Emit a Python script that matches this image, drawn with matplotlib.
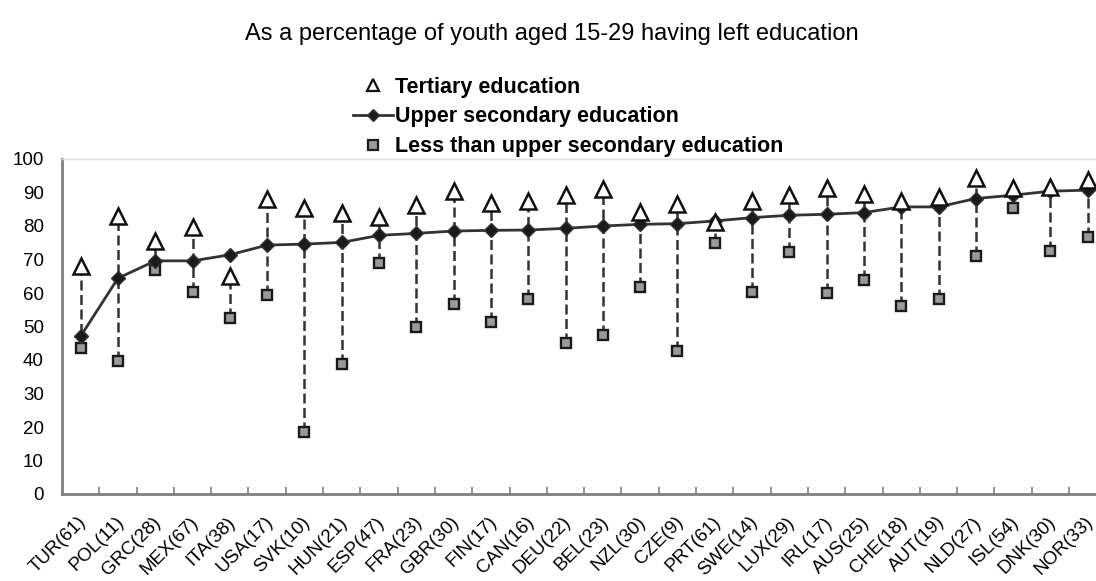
import matplotlib
matplotlib.use("Agg")
import matplotlib.pyplot as plt
from matplotlib.lines import Line2D
from matplotlib.transforms import ScaledTranslation

plt.rcParams['font.family'] = ['Liberation Sans', 'DejaVu Sans']

countries = ["TUR(61)", "POL(11)", "GRC(28)", "MEX(67)", "ITA(38)", "USA(17)", "SVK(10)",
             "HUN(21)", "ESP(47)", "FRA(23)", "GBR(30)", "FIN(17)", "CAN(16)", "DEU(22)",
             "BEL(23)", "NZL(30)", "CZE(9)", "PRT(61)", "SWE(14)", "LUX(29)", "IRL(17)",
             "AUS(25)", "CHE(18)", "AUT(19)", "NLD(27)", "ISL(54)", "DNK(30)", "NOR(33)"]
tertiary = [68, 83, 75.6, 79.7, 65, 88.1, 85.3, 83.8, 82.7, 86.3, 90.4, 86.9, 87.6, 89.4,
            90.9, 84.3, 86.6, 81.2, 87.6, 89.4, 91.4, 89.7, 87.4, 88.7, 94.4, 91.4, 91.7, 93.7]
upper_secondary = [47.1, 64.4, 69.6, 69.6, 71.4, 74.3, 74.6, 75.1, 77.2, 77.8, 78.5, 78.7,
                   78.8, 79.3, 80.0, 80.5, 80.7, 81.5, 82.5, 83.2, 83.5, 84.0, 85.7, 85.7,
                   88.2, 89.2, 90.4, 90.7]
below_upper = [43.6, 39.7, 67, 60.4, 52.6, 59.3, 18.4, 38.7, 69.1, 49.9, 56.8, 51.3, 58.3,
               45.2, 47.4, 61.9, 42.7, 74.9, 60.4, 72.1, 59.9, 63.9, 56.1, 58.3, 71.1, 85.3,
               72.6, 76.6]
yticks = list(range(0, 101, 10))
title = "As a percentage of youth aged 15-29 having left education"
legend_labels = ["Tertiary education", "Upper secondary education",
                 "Less than upper secondary education"]

W, H = 1096, 581
fig = plt.figure(figsize=(W / 100, H / 100), dpi=100)
n = len(countries)
cat_w = 37.3
top_px, bot_px = 159, 494
ax = fig.add_axes([62 / W, (H - bot_px) / H, n * cat_w / W, (bot_px - top_px) / H])

x = list(range(n))
lo = [min(a, b) for a, b in zip(tertiary, below_upper)]
hi = [max(a, b) for a, b in zip(tertiary, below_upper)]
ax.vlines(x, lo, hi, colors='#333333', linestyles=(0, (4, 1.8)), linewidth=1.8, zorder=2)
ax.plot(x, below_upper, linestyle='none', marker='s', ms=7.5, mfc='#9a9a9a',
        mec='#1a1a1a', mew=1.7, zorder=3)
ax.plot(x, upper_secondary, color='#333333', lw=2, marker='D', ms=7.5, mfc='#1a1a1a',
        mec='#333333', zorder=4)
ax.plot(x, tertiary, linestyle='none', marker='^', ms=11, mfc='white',
        mec='#111111', mew=1.8, zorder=5)

ax.set_xlim(-0.5, n - 0.5)
ax.set_ylim(0, 100)
ax.set_yticks(yticks)
ax.set_yticklabels([str(v) for v in yticks], fontsize=13.5)
ax.tick_params(axis='y', length=0, pad=13)
ax.set_xticks(x)
ax.set_xticklabels(countries, fontsize=13.5, rotation=45, ha='right', rotation_mode='anchor')
ax.tick_params(axis='x', which='major', length=0, pad=14)
shift = ScaledTranslation(-3 / 100, 0, fig.dpi_scale_trans)
for lbl in ax.get_xticklabels():
    lbl.set_transform(lbl.get_transform() + shift)
ax.set_xticks([i + 0.5 for i in range(n - 1)], minor=True)
ax.tick_params(axis='x', which='minor', direction='in', length=5, width=1.2, color='#808080')

for side in ['left', 'bottom']:
    ax.spines[side].set_color('#808080')
    ax.spines[side].set_linewidth(2)
ax.spines['top'].set_color('#dddddd')
ax.spines['top'].set_linewidth(1)
ax.spines['right'].set_visible(False)

fig.text(552 / W, 1 - 34 / H, title, ha='center', va='center', fontsize=17)

handles = [
    Line2D([], [], linestyle='none', marker='^', ms=8.5, mfc='white', mec='#111111', mew=1.6),
    Line2D([], [], color='#333333', lw=2, marker='D', ms=6.5, mfc='#1a1a1a', mec='#333333'),
    Line2D([], [], linestyle='none', marker='s', ms=7.5, mfc='#9a9a9a', mec='#1a1a1a', mew=1.6),
]
leg = fig.legend(handles, legend_labels, loc='center', bbox_to_anchor=(568 / W, 1 - 117 / H),
                 frameon=False, prop={'weight': 'bold', 'size': 15.5}, handlelength=1.85,
                 handletextpad=0.1, labelspacing=0.4, borderaxespad=0, borderpad=0)

fig.savefig("out.png", dpi=100, facecolor='white')
